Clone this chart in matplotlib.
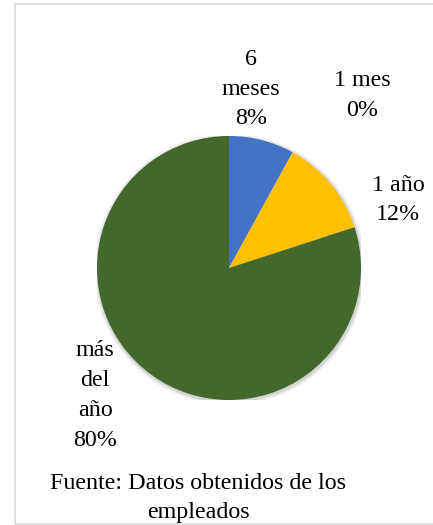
import matplotlib.pyplot as plt
from matplotlib.patches import Rectangle, Circle

# Data
labels = ["6\nmeses", "1 mes", "1 año", "más\ndel\naño"]
values = [8, 0, 12, 80]
colors = ["#4472C4", "#ED7D31", "#FFC000", "#43682B"]
source = "Fuente: Datos obtenidos de los\nempleados"

W, H = 433, 525
plt.rcParams["font.family"] = ["Liberation Serif", "DejaVu Serif"]

fig = plt.figure(figsize=(W / 100, H / 100), dpi=100)

# pie centre / radius in pixels
cx, cy, r = 229, 268, 132
ax = fig.add_axes([(cx - r) / W, (H - cy - r) / H, 2 * r / W, 2 * r / H])

# soft shadow behind the pie
for rad, a in [(1.03, 0.04), (1.02, 0.06), (1.01, 0.08)]:
    ax.add_patch(Circle((0.005, -0.01), rad, color="black", alpha=a,
                        linewidth=0, zorder=0))

ax.pie(values, colors=colors, startangle=90, counterclock=False, radius=1,
       wedgeprops=dict(linewidth=0))
ax.set_xlim(-1, 1)
ax.set_ylim(-1, 1)
ax.set_aspect("equal")
ax.axis("off")

FS, LS = 17.3, 1.56

# label positions (data coords of the pie axes)
label_pos = [(0.167, 1.356), (1.008, 1.31), (1.28, 0.515), (-1.015, -0.965)]
for lab, val, (x, y) in zip(labels, values, label_pos):
    ax.text(x, y, f"{lab}\n{val}%", ha="center", va="center",
            fontsize=FS, linespacing=LS, clip_on=False)

fig.text(198 / W, 1 - 498 / H, source, ha="center", va="center",
         fontsize=FS, linespacing=LS)

# chart border
fig.patches.append(Rectangle((14.5 / W, 1 - 523.5 / H), 1.0, (520 / H),
                             transform=fig.transFigure, fill=False,
                             edgecolor="#D9D9D9", linewidth=1.2))

fig.savefig("out.png", dpi=100)
